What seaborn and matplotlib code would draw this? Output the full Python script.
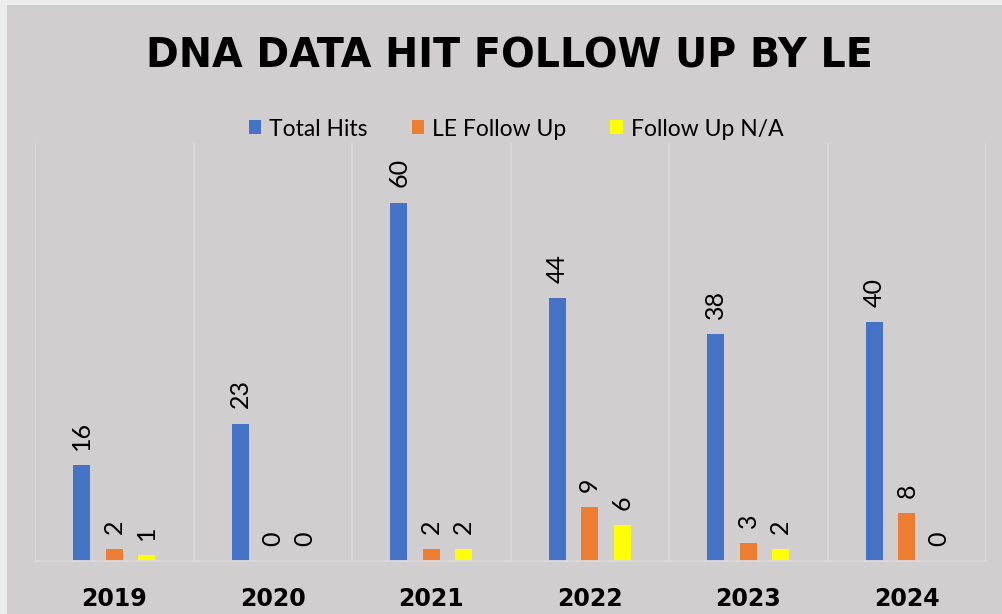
import pandas as pd
import seaborn as sns
import matplotlib.pyplot as plt
from matplotlib.patches import Rectangle

# values
years = ["2019", "2020", "2021", "2022", "2023", "2024"]
total_hits = [16, 23, 60, 44, 38, 40]
le_follow_up = [2, 0, 2, 9, 3, 8]
follow_up_na = [1, 0, 2, 6, 2, 0]
series = ["Total Hits", "LE Follow Up", "Follow Up N/A"]
colors = ["#4472C4", "#ED7D31", "#FFFF00"]

df = pd.DataFrame({
    "year": years * 3,
    "series": [s for s in series for _ in years],
    "value": total_hits + le_follow_up + follow_up_na,
})

bg = "#d0cece"
sns.set_theme(style="white", rc={"axes.facecolor": bg, "text.color": "black",
                                 "xtick.color": "black"})

fig = plt.figure(figsize=(10.02, 6.14), dpi=100)
fig.patch.set_facecolor("#ededed")
fig.patches.append(Rectangle((7 / 1002, 0), 1, 609 / 614, transform=fig.transFigure,
                             facecolor=bg, edgecolor="none", zorder=-5))
ax = fig.add_axes([35 / 1002, 1 - 561 / 614, 951 / 1002, 418 / 614])

sns.barplot(data=df, x="year", y="value", hue="series", hue_order=series,
            palette=colors, width=0.615, gap=0.48, saturation=1, ax=ax,
            legend=False, edgecolor="none", linewidth=0)

# data labels above each bar
for cont in ax.containers:
    ax.bar_label(cont, padding=11, rotation=90, fontsize=18,
                 family="Lato", color="black")

ax.set_ylim(0, 70)
ax.set_xlim(-0.5, 5.5)
ax.set_yticks([])
ax.set_xticks(range(len(years)))
ax.set_xticklabels(years, fontsize=17, fontweight="bold", family="DejaVu Sans")
ax.set_xticks([i - 0.5 for i in range(len(years) + 1)], minor=True)
ax.tick_params(axis="x", which="both", length=0, pad=19, labelcolor="black")
ax.grid(axis="x", which="minor", color="#dcdbdb", linewidth=1.3)
ax.grid(axis="x", which="major", visible=False)
ax.set_xlabel("")
ax.set_ylabel("")
for side in ["top", "left", "right"]:
    ax.spines[side].set_visible(False)
ax.spines["bottom"].set_color("#dcdbdb")
ax.spines["bottom"].set_linewidth(1.3)

handles = [Rectangle((0, 0), 1, 1, facecolor=c, edgecolor="none") for c in colors]
fig.legend(handles, series, loc="center", bbox_to_anchor=(0.515, 1 - 129 / 614),
           ncol=3, frameon=False, handlelength=0.55, handleheight=0.55,
           handletextpad=0.35, columnspacing=1.9,
           prop={"family": "Lato", "size": 16.5}, labelcolor="black")

fig.text(0.508, 1 - 57 / 614, "DNA DATA HIT FOLLOW UP BY LE", ha="center", va="center",
         fontsize=28.5, fontweight="bold", family="DejaVu Sans", color="black")

fig.savefig("out.png", dpi=100, facecolor=fig.get_facecolor())
